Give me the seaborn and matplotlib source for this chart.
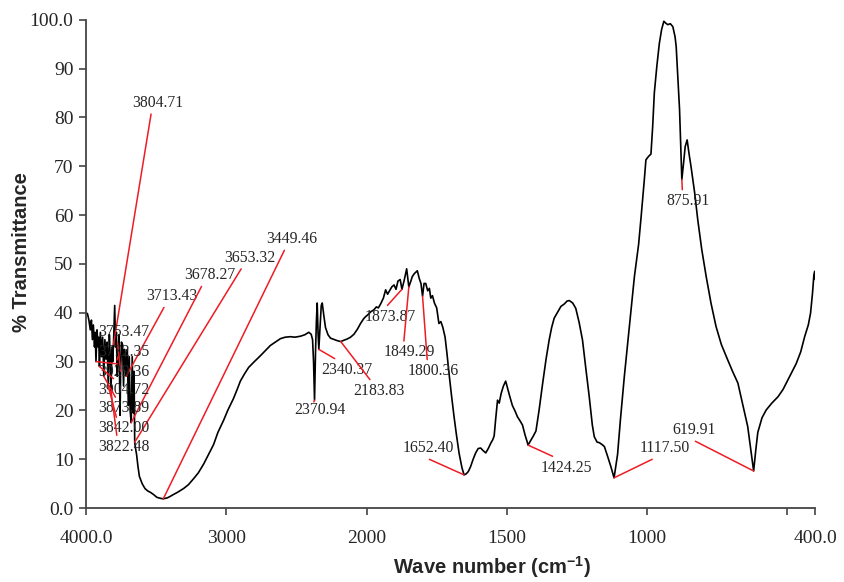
import numpy as np
import pandas as pd
import matplotlib
matplotlib.use("Agg")
import matplotlib.pyplot as plt
import seaborn as sns

sns.set_style("ticks")
plt.rcParams["mathtext.default"] = "regular"

# FTIR spectrum (wave number, % transmittance)
wavenumber = [
    4000, 3990, 3980, 3970, 3962, 3955, 3948, 3940, 3935, 3929.36, 3922, 3915, 3910,
    3904.72, 3898, 3890, 3882, 3873.89, 3866, 3858, 3850, 3842.00, 3834, 3828, 3822.48,
    3815, 3810, 3804.71, 3796, 3790, 3784, 3778, 3772.35, 3765, 3758, 3753.47, 3748,
    3740, 3733, 3726, 3719, 3713.43, 3706, 3699, 3692, 3686, 3678.27, 3671, 3664, 3658,
    3653.32, 3646, 3640, 3630, 3620, 3600, 3580, 3560, 3540, 3520, 3495, 3470, 3449.46,
    3420, 3400, 3376, 3350, 3305, 3270, 3234, 3200, 3162, 3130, 3091, 3060, 3019, 2990,
    2948, 2920, 2900, 2870, 2841, 2800, 2757, 2720, 2686, 2650, 2614, 2580, 2543, 2510,
    2471, 2440, 2412, 2395, 2385, 2378, 2370.94, 2364, 2358, 2352, 2346, 2340.37, 2332,
    2323, 2316, 2305, 2293, 2275, 2257, 2230, 2210, 2183.83, 2160, 2140, 2114, 2090,
    2066, 2043, 2020, 2007, 1997, 1985, 1974, 1965, 1958, 1950, 1940, 1932, 1925, 1918,
    1910, 1902, 1895, 1888, 1880, 1873.87, 1866, 1857, 1849.29, 1842, 1837, 1830, 1819,
    1812, 1806, 1800.36, 1795, 1789, 1782, 1776, 1771, 1765, 1758, 1750, 1742, 1735,
    1728, 1720, 1713, 1706, 1697, 1688, 1680, 1670, 1660, 1652.40, 1645, 1637, 1629,
    1620, 1611, 1602, 1593, 1585, 1575, 1566, 1557, 1550, 1545, 1540, 1533, 1527, 1520,
    1512, 1504, 1497, 1490, 1480, 1470, 1462, 1452, 1444, 1435, 1427, 1424.25, 1415,
    1405, 1396, 1385, 1372, 1360, 1349, 1340, 1331, 1320, 1307, 1295, 1285, 1277, 1265,
    1254, 1242, 1230, 1218, 1206, 1195, 1188, 1178, 1170, 1160, 1152, 1140, 1129,
    1117.50, 1105, 1095, 1081, 1063, 1045, 1030, 1021, 1010, 1004, 995, 986, 980, 974,
    965, 956, 948, 940, 933, 926, 917, 908, 900, 896, 890, 884, 878, 875.91, 870, 864,
    857, 850, 843, 830, 819, 805, 789, 772, 754, 735, 712, 695, 676, 660, 641, 630,
    619.91, 612, 605, 599, 590, 575, 555, 533, 515, 498, 482, 468, 452, 438, 425, 417,
    410, 405, 402, 400,
]
transmittance = [
    40.0, 39.8, 38.5, 36.5, 38.5, 34.5, 37.5, 33.0, 36.0, 30.0, 36.5, 33.0, 35.0,
    29.0, 36.0, 31.0, 35.0, 27.0, 34.5, 30.5, 34.0, 25.0, 35.5, 31.0, 24.0,
    33.0, 30.0, 33.5, 41.5, 33.0, 36.0, 27.0, 31.0, 35.5, 19.0, 28.0, 34.0,
    33.5, 25.0, 32.5, 29.0, 27.0, 32.5, 21.0, 31.0, 20.0, 17.5, 31.0, 19.5, 28.0,
    13.5, 12.0, 11.0, 8.5, 6.5, 5.0, 4.0, 3.5, 3.2, 2.8, 2.2, 2.0, 1.9,
    2.1, 2.4, 2.8, 3.2, 4.0, 4.8, 6.0, 7.2, 9.0, 10.8, 13.0, 15.5, 18.0, 20.0,
    22.5, 24.5, 26.0, 27.5, 28.8, 30.0, 31.2, 32.3, 33.3, 34.0, 34.7, 35.0, 35.1, 35.0,
    35.2, 35.5, 36.0, 35.6, 34.5, 30.0, 22.1, 32.0, 38.0, 42.0, 36.0, 32.5, 37.0,
    41.5, 42.0, 39.5, 37.0, 35.5, 34.8, 34.5, 34.3, 34.1, 34.4, 34.6, 35.0, 35.6,
    36.6, 37.8, 38.8, 39.2, 39.5, 40.2, 40.6, 41.2, 41.0, 41.8, 43.0, 44.7, 43.8, 44.5,
    45.3, 45.7, 44.8, 46.5, 46.8, 44.8, 46.6, 49.0, 45.3, 46.5, 47.4, 48.0, 48.6,
    47.0, 46.0, 43.4, 46.0, 46.0, 44.5, 45.0, 43.0, 43.5, 42.0, 41.0, 37.8, 38.2,
    37.0, 35.0, 31.5, 27.6, 23.0, 18.7, 15.2, 11.2, 8.3, 6.8, 7.0, 7.5, 8.5,
    10.0, 11.3, 12.2, 12.3, 11.8, 11.3, 12.2, 13.3, 14.0, 14.8, 18.0, 22.1, 21.5, 23.5,
    25.0, 26.0, 24.5, 23.0, 21.0, 19.8, 18.7, 17.8, 17.0, 15.0, 13.5, 12.9, 13.8,
    14.8, 15.8, 20.0, 25.6, 30.5, 34.4, 37.0, 38.9, 40.0, 41.3, 41.8, 42.4, 42.5, 42.0,
    40.9, 38.0, 34.4, 28.5, 22.8, 17.0, 14.6, 13.5, 13.4, 13.0, 12.6, 10.5, 8.5,
    6.2, 11.0, 18.0, 26.9, 37.2, 47.4, 54.0, 59.7, 67.0, 71.3, 72.0, 72.5, 78.0, 85.0,
    90.5, 95.2, 98.0, 99.7, 99.3, 99.0, 99.2, 98.6, 96.5, 94.5, 88.0, 81.6, 71.0, 67.3, 70.5, 74.0,
    75.4, 72.5, 69.9, 64.5, 59.0, 53.0, 47.4, 42.0, 37.2, 33.5, 30.3, 28.0, 25.6, 21.5, 16.7, 12.0,
    7.6, 12.0, 15.5, 16.7, 18.5, 20.1, 21.5, 22.8, 24.3, 26.2, 28.0, 29.6, 32.0, 35.1, 37.5, 39.9,
    44.0, 47.8, 48.5, 46.8,
]

# marked peaks and where their labels sit (data coordinates)
peak_wn = [3804.71, 3713.43, 3678.27, 3653.32, 3449.46,
           3753.47, 3772.35, 3929.36, 3904.72, 3873.89, 3842.00, 3822.48,
           2370.94, 2340.37, 2183.83, 1873.87, 1849.29, 1800.36,
           1652.40, 1424.25, 1117.50, 619.91, 875.91]
label_wn = [3489, 3388, 3121, 2836, 2531,
            3734, 3734, 3734, 3734, 3734, 3734, 3734,
            2332, 2143, 1957, 1914, 1846, 1761,
            1780, 1289, 936, 832, 855]
label_t = [83.0, 43.4, 47.7, 51.3, 55.1,
           36.1, 32.0, 27.9, 24.2, 20.4, 16.3, 12.6,
           20.1, 28.3, 24.0, 39.2, 31.9, 28.1,
           12.3, 8.3, 12.3, 16.0, 62.9]

df = pd.DataFrame({"wn": wavenumber, "T": transmittance})

fig = plt.figure(figsize=(8.44, 5.82), dpi=100)
ax = fig.add_axes([0.102, 0.127, 0.864, 0.839])

sns.lineplot(data=df, x="wn", y="T", ax=ax, color="black", lw=1.2,
             sort=False, estimator=None)


# the spectrum axis is compressed 2x above 2000 cm-1
def fwd(x):
    x = np.asarray(x, dtype=float)
    return np.where(x > 2000, 2000 + (x - 2000) / 2, x)


def inv(u):
    u = np.asarray(u, dtype=float)
    return np.where(u > 2000, 2000 + (u - 2000) * 2, u)


ax.set_xscale("function", functions=(fwd, inv))
ax.set_xlim(4000, 400)
ax.set_ylim(0, 100)

serif = "Liberation Serif"
ax.set_xticks([4000, 3000, 2000, 1500, 1000, 500, 400])
ax.set_xticklabels(["4000.0", "3000", "2000", "1500", "1000", "", "400.0"])
ax.set_yticks(range(0, 101, 10))
ax.set_yticklabels(["0.0"] + [str(v) for v in range(10, 100, 10)] + ["100.0"])
for lab in ax.get_xticklabels() + ax.get_yticklabels():
    lab.set_family(serif)
    lab.set_fontsize(14)
ax.tick_params(axis="both", direction="out", length=5, width=1.2, color="#444444")
ax.tick_params(axis="y", pad=4)
ax.tick_params(axis="x", pad=11)
ax.xaxis.set_minor_locator(matplotlib.ticker.NullLocator())

sns.despine(ax=ax)
for s in ["left", "bottom"]:
    ax.spines[s].set_color("#444444")
    ax.spines[s].set_linewidth(1.3)

ax.set_xlabel("Wave number (cm$^{-1}$)", fontsize=14.5, fontweight="bold",
              family="Liberation Sans", va="center")
ax.xaxis.set_label_coords(0.556, -0.121)
ax.set_ylabel("% Transmittance", fontsize=14.5, fontweight="bold",
              family="Liberation Sans", va="center")
ax.yaxis.set_label_coords(-0.088, 0.525)

curve_wn = np.array(wavenumber)[::-1]
curve_t = np.array(transmittance)[::-1]
for wn, lx, ly in zip(peak_wn, label_wn, label_t):
    py = np.interp(wn, curve_wn, curve_t)
    side = 1 if py > ly else 0
    ax.annotate(f"{wn:.2f}", xy=(wn, py), xytext=(lx, ly), textcoords="data",
                ha="center", va="center", fontsize=11.3, family=serif,
                arrowprops=dict(arrowstyle="-", color="#ee1c25", lw=1.1,
                                shrinkA=0, shrinkB=0, relpos=(0.38, side)))

fig.savefig("out.png", dpi=100)
